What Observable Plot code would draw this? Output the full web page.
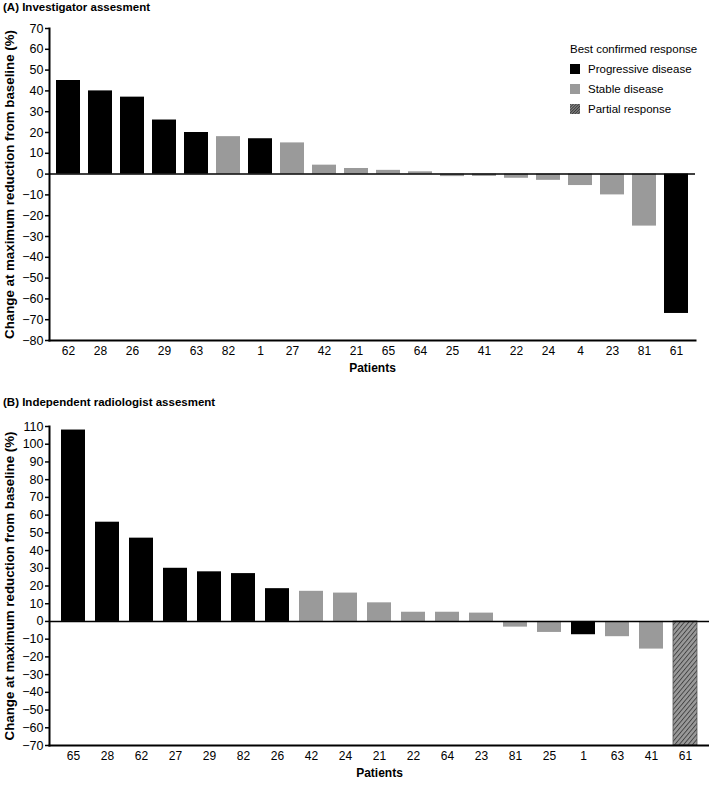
<!DOCTYPE html>
<html><head><meta charset="utf-8">
<script src="https://cdn.jsdelivr.net/npm/d3@7"></script>
<script src="https://cdn.jsdelivr.net/npm/@observablehq/plot@0.6"></script>
<style>
body{margin:0;background:#fff;font-family:Arial,"Liberation Sans",sans-serif;color:#000;}
#wrap{position:relative;width:709px;height:786px;overflow:hidden;}
.ptitle{position:absolute;left:3px;font-weight:bold;font-size:11.5px;white-space:nowrap;z-index:2;}
#legend{position:absolute;left:570px;top:43px;font-size:11.5px;z-index:2;}
#legend .head{margin-bottom:4px;}
#legend .item{display:flex;align-items:center;height:20px;}
#legend .sw{width:10px;height:10px;margin-right:8px;}
.plot{position:absolute;left:0;}
</style></head><body>
<svg width="0" height="0" style="position:absolute">
  <defs>
    <pattern id="hatch" patternUnits="userSpaceOnUse" width="3.4" height="3.4" patternTransform="rotate(40)">
      <rect width="3.4" height="3.4" fill="#9a9a9a"></rect>
      <line x1="0.5" y1="0" x2="0.5" y2="3.4" stroke="#333" stroke-width="0.8"></line>
    </pattern>
    <pattern id="hatchSmall" patternUnits="userSpaceOnUse" width="2" height="2" patternTransform="rotate(45)">
      <rect width="2" height="2" fill="#8a8a8a"></rect>
      <line x1="0.5" y1="0" x2="0.5" y2="2" stroke="#333" stroke-width="0.9"></line>
    </pattern>
  </defs>
</svg>
<div id="wrap">
  <div class="ptitle" style="top:1px">(A) Investigator assesment</div>
  <div class="ptitle" style="top:396px">(B) Independent radiologist assesment</div>
  <div id="plotA" class="plot" style="top:0px"></div>
  <div id="plotB" class="plot" style="top:395px"></div>
  <div id="legend"></div>
</div>
<script>
// ---- Data ----
const categories = ["Progressive disease", "Stable disease", "Partial response"];
const categoryFills = ["#000000", "#9a9a9a", "url(#hatch)"];
const legendTitle = "Best confirmed response";
const yLabel = "Change at maximum reduction from baseline (%)";
const xLabel = "Patients";

const patientsA = ["62","28","26","29","63","82","1","27","42","21","65","64","25","41","22","24","4","23","81","61"];
const valuesA   = [45, 40, 37, 26, 20, 18, 17, 15, 4.3, 2.7, 1.8, 1.1, -1.2, -1.1, -2, -3, -5.5, -10, -25, -67];
const responseA = ["Progressive disease","Progressive disease","Progressive disease","Progressive disease","Progressive disease",
  "Stable disease","Progressive disease","Stable disease","Stable disease","Stable disease","Stable disease","Stable disease",
  "Stable disease","Stable disease","Stable disease","Stable disease","Stable disease","Stable disease","Stable disease","Progressive disease"];
const yTicksA = [-80,-70,-60,-50,-40,-30,-20,-10,0,10,20,30,40,50,60,70];

const patientsB = ["65","28","62","27","29","82","26","42","24","21","22","64","23","81","25","1","63","41","61"];
const valuesB   = [108, 56, 47, 30, 28, 27, 18.5, 17, 16, 10.5, 5.2, 5.2, 4.7, -3.2, -6.2, -7.5, -8.6, -15.6, -70];
const responseB = ["Progressive disease","Progressive disease","Progressive disease","Progressive disease","Progressive disease",
  "Progressive disease","Progressive disease","Stable disease","Stable disease","Stable disease","Stable disease","Stable disease",
  "Stable disease","Stable disease","Stable disease","Progressive disease","Stable disease","Stable disease","Partial response"];
const yTicksB = [-70,-60,-50,-40,-30,-20,-10,0,10,20,30,40,50,60,70,80,90,100,110];

// ---- Build ----
const font = "Arial, 'Liberation Sans', sans-serif";
function makePanel(patients, values, responses, ticks, opts) {
  const data = patients.map((p, i) => ({patient: p, value: values[i], response: responses[i]}));
  const pr = data.filter(d => d.response === "Partial response");
  return Plot.plot({
    width: 709, height: opts.height,
    marginTop: opts.marginTop, marginBottom: opts.marginBottom, marginLeft: 49, marginRight: opts.marginRight,
    style: {fontFamily: font, fontSize: "12px", color: "#000", background: "transparent"},
    x: {domain: patients, paddingInner: opts.paddingInner, paddingOuter: opts.paddingOuter, label: null},
    y: {domain: [ticks[0], ticks[ticks.length - 1]], label: null},
    color: {domain: categories, range: categoryFills},
    marks: [
      Plot.barY(data, {x: "patient", y: "value", fill: "response"}),
      Plot.barY(pr, {x: "patient", y: "value", fill: "response", stroke: "#555", strokeWidth: 0.8}),
      Plot.ruleY([0], {stroke: "#000", strokeWidth: 1.5}),
      Plot.axisY({ticks: ticks, tickSize: 4, tickPadding: 2, strokeWidth: 1.5, label: null, fontSize: 12.5}),
      Plot.axisX({tickSize: 0, tickPadding: 6, label: null, fontSize: 12}),
      Plot.frame({anchor: "left", strokeWidth: 2}),
      Plot.frame({anchor: "bottom", strokeWidth: 2}),
      Plot.text([yLabel], {frameAnchor: "left", textAnchor: "middle", rotate: -90, dx: -40, fontWeight: "bold", fontSize: 13.3}),
      Plot.text([xLabel], {frameAnchor: "bottom", dy: 31, fontWeight: "bold", fontSize: 12})
    ]
  });
}

document.getElementById("plotA").append(makePanel(patientsA, valuesA, responseA, yTicksA,
  {height: 385, marginTop: 28, marginBottom: 45, marginRight: 14, paddingInner: 0.25, paddingOuter: 0.1}));
document.getElementById("plotB").append(makePanel(patientsB, valuesB, responseB, yTicksB,
  {height: 391, marginTop: 31, marginBottom: 41, marginRight: 0, paddingInner: 0.28, paddingOuter: 0.15}));

// ---- Legend ----
const legend = document.getElementById("legend");
const head = document.createElement("div");
head.className = "head"; head.textContent = legendTitle;
legend.append(head);
const swatchFills = ["#000000", "#9a9a9a", "url(#hatchSmall)"];
categories.forEach((c, i) => {
  const item = document.createElement("div");
  item.className = "item";
  const sw = document.createElementNS("http://www.w3.org/2000/svg", "svg");
  sw.setAttribute("class", "sw"); sw.setAttribute("width", 10); sw.setAttribute("height", 10);
  const r = document.createElementNS("http://www.w3.org/2000/svg", "rect");
  r.setAttribute("width", 10); r.setAttribute("height", 10); r.setAttribute("fill", swatchFills[i]);
  sw.append(r);
  const t = document.createElement("span"); t.textContent = c;
  item.append(sw, t);
  legend.append(item);
});
</script>
</body></html>
